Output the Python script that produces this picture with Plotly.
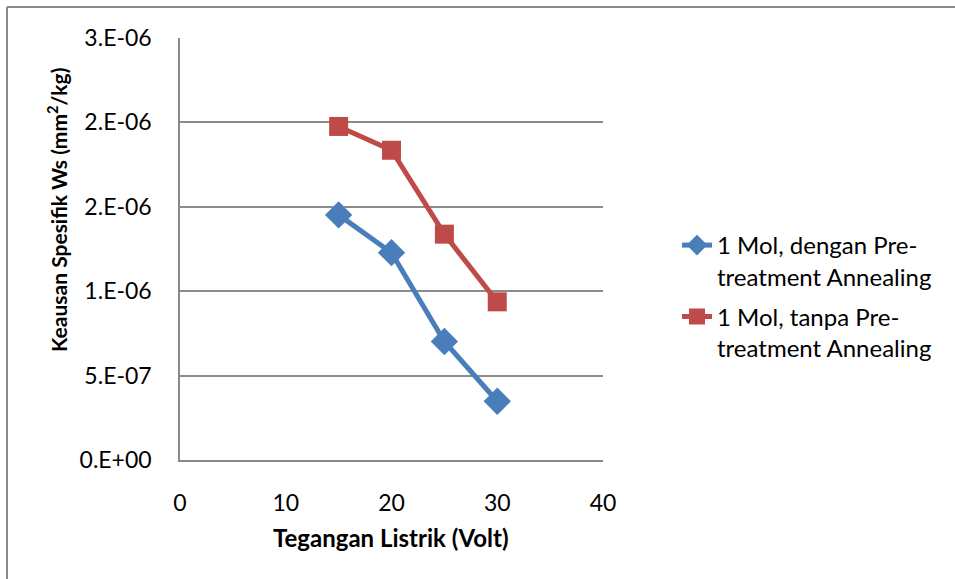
import plotly.graph_objects as go

voltage = [15, 20, 25, 30]
ws_with_annealing = [1.452e-6, 1.228e-6, 0.702e-6, 0.348e-6]
ws_without_annealing = [1.976e-6, 1.835e-6, 1.338e-6, 0.937e-6]
series_names = ["1 Mol, dengan Pre-<br>treatment Annealing", "1 Mol, tanpa Pre-<br>treatment Annealing"]
y_tick_vals = [0, 0.5e-6, 1.0e-6, 1.5e-6, 2.0e-6, 2.5e-6]
y_tick_text = ["0.E+00", "5.E-07", "1.E-06", "2.E-06", "2.E-06", "3.E-06"]
x_tick_vals = [0, 10, 20, 30, 40]

W, H = 955, 579
L, R, T, B = 180, 352, 38, 119
pw, ph = W - L - R, H - T - B

def px2paper_x(px):
    return (px - L) / pw

def px2paper_y(py):
    return 1 - (py - T) / ph

font = "Lato, 'Open Sans', sans-serif"

fig = go.Figure()
fig.add_trace(go.Scatter(
    x=voltage, y=ws_with_annealing, name=series_names[0], legendgroup="g1",
    mode="lines+markers",
    line=dict(color="#4A7EBB", width=5),
    marker=dict(symbol="diamond", size=21, color="#4A7EBB"),
))
fig.add_trace(go.Scatter(
    x=voltage, y=ws_without_annealing, name=series_names[1], legendgroup="g2",
    mode="lines+markers",
    line=dict(color="#BE4B48", width=5),
    marker=dict(symbol="square", size=19, color="#BE4B48"),
))

fig.update_layout(
    width=W, height=H,
    margin=dict(l=L, r=R, t=T, b=B),
    paper_bgcolor="white", plot_bgcolor="white",
    font=dict(family=font, size=23, color="black"),
    showlegend=True,
    legend=dict(x=px2paper_x(677), y=px2paper_y(223), xanchor="left", yanchor="top",
                font=dict(size=24), tracegroupgap=6, valign="top",
                bgcolor="rgba(0,0,0,0)"),
    xaxis=dict(range=[0, 40], tickvals=x_tick_vals, showgrid=False,
               showline=True, linecolor="#888888", linewidth=1.5,
               ticks="", zeroline=False,
               tickfont=dict(size=23), fixedrange=True),
    yaxis=dict(range=[0, 2.5e-6], tickvals=y_tick_vals, ticktext=y_tick_text,
               showgrid=True, gridcolor="#8c8c8c", gridwidth=1.5,
               showline=True, linecolor="#888888", linewidth=1.5,
               ticks="", zeroline=False,
               tickfont=dict(size=23), fixedrange=True),
    shapes=[
        dict(type="line", xref="paper", yref="paper",
             x0=px2paper_x(7), x1=px2paper_x(960), y0=px2paper_y(7), y1=px2paper_y(7),
             line=dict(color="#8a8a8a", width=2)),
        dict(type="line", xref="paper", yref="paper",
             x0=px2paper_x(7), x1=px2paper_x(7), y0=px2paper_y(7), y1=px2paper_y(590),
             line=dict(color="#8a8a8a", width=2)),
    ],
    annotations=[
        dict(text="<b>Keausan Spesifik Ws (mm<sup>2</sup>/kg)</b>", xref="paper", yref="paper",
             x=px2paper_x(57), y=px2paper_y(210), textangle=-90, showarrow=False,
             xanchor="center", yanchor="middle", font=dict(size=21)),
        dict(text="<b>Tegangan Listrik (Volt)</b>", xref="paper", yref="paper",
             x=px2paper_x(391), y=px2paper_y(537), showarrow=False,
             xanchor="center", yanchor="middle", font=dict(size=24)),
    ],
)
fig.update_yaxes(ticklabelstandoff=22)
fig.update_xaxes(ticklabelstandoff=22)

fig.write_html("out.html")
